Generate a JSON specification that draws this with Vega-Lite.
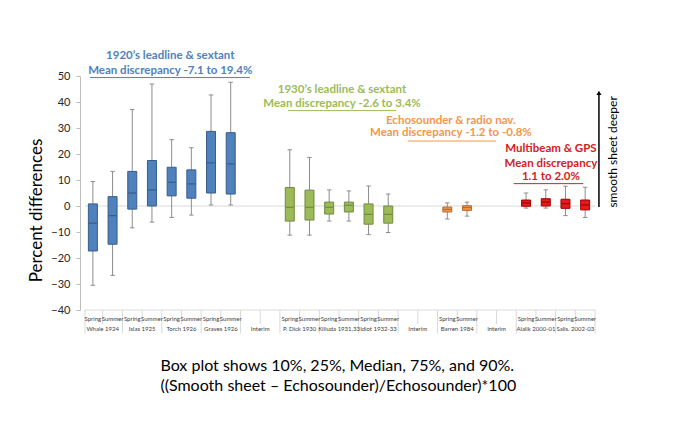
{
  "$schema": "https://vega.github.io/schema/vega-lite/v6.json",
  "width": 520,
  "height": 234,
  "autosize": "none",
  "padding": {"left": 80, "top": 76, "right": 75, "bottom": 114},
  "background": "white",
  "config": {"view": {"stroke": null}, "font": "Lato"},
  "datasets": {
    "boxes": [
      {"slot": 0, "season": "Spring", "era": "1920s", "p10": -30.5, "q1": -17.3, "med": -6.6, "q3": 0.8, "p90": 9.4},
      {"slot": 1, "season": "Summer", "era": "1920s", "p10": -26.7, "q1": -14.7, "med": -3.7, "q3": 3.6, "p90": 13.3},
      {"slot": 2, "season": "Spring", "era": "1920s", "p10": -8.4, "q1": -1.2, "med": 5.0, "q3": 13.3, "p90": 37.1},
      {"slot": 3, "season": "Summer", "era": "1920s", "p10": -6.2, "q1": 0.0, "med": 6.2, "q3": 17.5, "p90": 46.9},
      {"slot": 4, "season": "Spring", "era": "1920s", "p10": -4.4, "q1": 3.9, "med": 9.1, "q3": 14.9, "p90": 25.5},
      {"slot": 5, "season": "Summer", "era": "1920s", "p10": -3.5, "q1": 3.0, "med": 8.5, "q3": 13.9, "p90": 22.4},
      {"slot": 6, "season": "Spring", "era": "1920s", "p10": 0.4, "q1": 5.0, "med": 16.6, "q3": 28.7, "p90": 42.7},
      {"slot": 7, "season": "Summer", "era": "1920s", "p10": 0.4, "q1": 4.6, "med": 16.2, "q3": 28.2, "p90": 47.6},
      {"slot": 10, "season": "Spring", "era": "1930s", "p10": -11.2, "q1": -5.8, "med": -0.5, "q3": 7.1, "p90": 21.6},
      {"slot": 11, "season": "Summer", "era": "1930s", "p10": -11.2, "q1": -5.4, "med": -0.5, "q3": 6.1, "p90": 18.7},
      {"slot": 12, "season": "Spring", "era": "1930s", "p10": -5.8, "q1": -3.1, "med": -0.5, "q3": 1.5, "p90": 6.2},
      {"slot": 13, "season": "Summer", "era": "1930s", "p10": -5.8, "q1": -2.3, "med": 0.3, "q3": 1.5, "p90": 5.8},
      {"slot": 14, "season": "Spring", "era": "1930s", "p10": -11.0, "q1": -7.0, "med": -3.2, "q3": 0.8, "p90": 7.7},
      {"slot": 15, "season": "Summer", "era": "1930s", "p10": -10.2, "q1": -6.6, "med": -3.2, "q3": 0.0, "p90": 4.6},
      {"slot": 18, "season": "Spring", "era": "echo", "p10": -5.0, "q1": -2.3, "med": -1.3, "q3": -0.4, "p90": 1.2},
      {"slot": 19, "season": "Summer", "era": "echo", "p10": -3.9, "q1": -1.7, "med": -0.6, "q3": 0.1, "p90": 1.5},
      {"slot": 22, "season": "Spring", "era": "mb", "p10": -0.8, "q1": -0.1, "med": 1.2, "q3": 2.3, "p90": 5.0},
      {"slot": 23, "season": "Summer", "era": "mb", "p10": -0.8, "q1": 0.0, "med": 1.5, "q3": 2.8, "p90": 6.2},
      {"slot": 24, "season": "Spring", "era": "mb", "p10": -3.7, "q1": -0.9, "med": 0.9, "q3": 2.6, "p90": 7.6},
      {"slot": 25, "season": "Summer", "era": "mb", "p10": -4.4, "q1": -1.5, "med": 0.4, "q3": 2.3, "p90": 7.2}
    ],
    "groups": [
      {"center": 0.5, "label": "Whale 1924"},
      {"center": 2.5, "label": "Islas 1925"},
      {"center": 4.5, "label": "Torch 1926"},
      {"center": 6.5, "label": "Graves 1926"},
      {"center": 8.5, "label": "Interim"},
      {"center": 10.5, "label": "P. Dick 1930"},
      {"center": 12.5, "label": "Kiliuda 1931,33"},
      {"center": 14.5, "label": "Idiot 1932-33"},
      {"center": 16.5, "label": "Interim"},
      {"center": 18.5, "label": "Barren 1984"},
      {"center": 20.5, "label": "Interim"},
      {"center": 22.5, "label": "Alalik 2000-01"},
      {"center": 24.5, "label": "Salis. 2002-03"}
    ],
    "dividers": [
      {"b": -0.4, "kind": "full"}, {"b": 0.5, "kind": "half"}, {"b": 1.5, "kind": "full"}, {"b": 2.5, "kind": "half"},
      {"b": 3.5, "kind": "full"}, {"b": 4.5, "kind": "half"}, {"b": 5.5, "kind": "full"}, {"b": 6.5, "kind": "half"},
      {"b": 7.5, "kind": "full"}, {"b": 8.5, "kind": "half"}, {"b": 9.5, "kind": "full"}, {"b": 10.5, "kind": "half"},
      {"b": 11.5, "kind": "full"}, {"b": 12.5, "kind": "half"}, {"b": 13.5, "kind": "full"}, {"b": 14.5, "kind": "half"},
      {"b": 15.5, "kind": "full"}, {"b": 16.5, "kind": "half"}, {"b": 17.5, "kind": "full"}, {"b": 18.5, "kind": "half"},
      {"b": 19.5, "kind": "full"}, {"b": 20.5, "kind": "half"}, {"b": 21.5, "kind": "full"}, {"b": 22.5, "kind": "half"},
      {"b": 23.5, "kind": "full"}, {"b": 24.5, "kind": "half"}, {"b": 25.5, "kind": "full"}
    ],
    "notes": [
      {"x": 3.93, "y": 57.7, "era": "1920s", "text": "1920’s leadline & sextant"},
      {"x": 3.93, "y": 51.9, "era": "1920s", "text": "Mean discrepancy -7.1 to 19.4%"},
      {"x": 12.65, "y": 44.6, "era": "1930s", "text": "1930’s leadline & sextant"},
      {"x": 12.65, "y": 39.2, "era": "1930s", "text": "Mean discrepancy -2.6 to 3.4%"},
      {"x": 18.18, "y": 32.7, "era": "echo", "text": "Echosounder & radio nav."},
      {"x": 18.18, "y": 28.0, "era": "echo", "text": "Mean discrepancy -1.2 to -0.8%"},
      {"x": 23.26, "y": 21.8, "era": "mb", "text": "Multibeam & GPS"},
      {"x": 23.26, "y": 16.2, "era": "mb", "text": "Mean discrepancy"},
      {"x": 23.26, "y": 11.3, "era": "mb", "text": "1.1 to 2.0%"}
    ],
    "underlines": [
      {"x1": -0.15, "x2": 7.97, "y": 49.4, "era": "1920s"},
      {"x1": 9.91, "x2": 15.39, "y": 36.7, "era": "1930s"},
      {"x1": 15.99, "x2": 20.47, "y": 25.0, "era": "echo"},
      {"x1": 21.37, "x2": 24.9, "y": 8.6, "era": "mb"}
    ],
    "caption": [
      {"x": 3.43, "y": -61.5, "text": "Box plot shows 10%, 25%, Median, 75%, and 90%."},
      {"x": 3.43, "y": -69.4, "text": "((Smooth sheet – Echosounder)/Echosounder)*100"}
    ],
    "arrow": [
      {"x": 25.7, "y0": -0.4, "y1": 43.5, "label": "smooth sheet deeper", "ty": 20.8, "tx": 26.4}
    ],
    "frame": [{"a": -0.4, "b": 25.5, "z": 0}]
  },
  "layer": [
    {
      "data": {"name": "frame"},
      "mark": {"type": "rule", "color": "#d9d9d9", "strokeWidth": 1, "clip": false},
      "encoding": {
        "x": {"field": "a", "type": "quantitative", "scale": {"domain": [-0.4, 25.5], "nice": false, "zero": false}, "axis": null},
        "x2": {"field": "b"},
        "y": {"field": "z", "type": "quantitative", "scale": {"domain": [-40, 50], "nice": false, "zero": false},
          "axis": {"values": [-40, -30, -20, -10, 0, 10, 20, 30, 40, 50], "tickCount": 10, "labelOverlap": false, "grid": false, "domainColor": "#bfbfbf", "tickColor": "#bfbfbf", "tickSize": 4, "labelFontSize": 11, "labelColor": "#262626", "labelFont": "Lato", "labelPadding": 6, "title": "Percent differences", "titleFontSize": 17, "titleFont": "Lato", "titleFontWeight": "normal", "titleColor": "#000000", "titleY": 134, "titlePadding": 5}}
      }
    },
    {
      "data": {"name": "frame"},
      "mark": {"type": "rule", "color": "#d9d9d9", "strokeWidth": 1, "clip": false},
      "encoding": {
        "x": {"field": "a", "type": "quantitative"},
        "x2": {"field": "b"},
        "y": {"datum": -40}
      }
    },
    {
      "data": {"name": "boxes"},
      "mark": {"type": "rule", "color": "#8c8c8c", "strokeWidth": 1},
      "encoding": {
        "x": {"field": "slot", "type": "quantitative"},
        "y": {"field": "p10", "type": "quantitative"},
        "y2": {"field": "p90"}
      }
    },
    {
      "data": {"name": "boxes"},
      "mark": {"type": "point", "shape": "stroke", "filled": false, "stroke": "#8c8c8c", "strokeWidth": 1, "size": 20, "opacity": 1},
      "encoding": {
        "x": {"field": "slot", "type": "quantitative"},
        "y": {"field": "p10", "type": "quantitative"}
      }
    },
    {
      "data": {"name": "boxes"},
      "mark": {"type": "point", "shape": "stroke", "filled": false, "stroke": "#8c8c8c", "strokeWidth": 1, "size": 20, "opacity": 1},
      "encoding": {
        "x": {"field": "slot", "type": "quantitative"},
        "y": {"field": "p90", "type": "quantitative"}
      }
    },
    {
      "data": {"name": "boxes"},
      "mark": {"type": "bar", "width": 9, "strokeWidth": 1},
      "encoding": {
        "x": {"field": "slot", "type": "quantitative"},
        "y": {"field": "q1", "type": "quantitative"},
        "y2": {"field": "q3"},
        "fill": {"field": "era", "type": "nominal", "scale": {"domain": ["1920s", "1930s", "echo", "mb"], "range": ["#4f81bd", "#9bbb59", "#f79646", "#e41a1c"]}, "legend": null},
        "stroke": {"field": "era", "type": "nominal", "scale": {"domain": ["1920s", "1930s", "echo", "mb"], "range": ["#385d8a", "#71893f", "#b66d31", "#a00000"]}, "legend": null}
      }
    },
    {
      "data": {"name": "boxes"},
      "mark": {"type": "point", "shape": "stroke", "filled": false, "strokeWidth": 1.2, "size": 64, "opacity": 1},
      "encoding": {
        "x": {"field": "slot", "type": "quantitative"},
        "y": {"field": "med", "type": "quantitative"},
        "stroke": {"field": "era", "type": "nominal", "legend": null}
      }
    },
    {
      "data": {"name": "dividers"},
      "transform": [{"filter": "datum.kind === 'full'"}],
      "mark": {"type": "rule", "color": "#d9d9d9", "strokeWidth": 1, "clip": false},
      "encoding": {
        "x": {"field": "b", "type": "quantitative"},
        "y": {"datum": -40},
        "y2": {"datum": -49}
      }
    },
    {
      "data": {"name": "dividers"},
      "transform": [{"filter": "datum.kind === 'half'"}],
      "mark": {"type": "rule", "color": "#d9d9d9", "strokeWidth": 1, "clip": false},
      "encoding": {
        "x": {"field": "b", "type": "quantitative"},
        "y": {"datum": -40},
        "y2": {"datum": -45.4}
      }
    },
    {
      "data": {"name": "boxes"},
      "mark": {"type": "text", "fontSize": 6, "font": "Lato", "color": "#404040", "baseline": "middle", "align": "center", "clip": false},
      "encoding": {
        "x": {"field": "slot", "type": "quantitative"},
        "y": {"datum": -43.5},
        "text": {"field": "season"}
      }
    },
    {
      "data": {"name": "groups"},
      "mark": {"type": "text", "fontSize": 6, "font": "Lato", "color": "#404040", "baseline": "middle", "align": "center", "clip": false},
      "encoding": {
        "x": {"field": "center", "type": "quantitative"},
        "y": {"datum": -47.3},
        "text": {"field": "label"}
      }
    },
    {
      "data": {"name": "underlines"},
      "mark": {"type": "rule", "strokeWidth": 1, "clip": false},
      "encoding": {
        "x": {"field": "x1", "type": "quantitative"},
        "x2": {"field": "x2"},
        "y": {"field": "y", "type": "quantitative"},
        "color": {"field": "era", "type": "nominal", "scale": {"domain": ["1920s", "1930s", "echo", "mb"], "range": ["#4f81bd", "#9bbb59", "#f79646", "#d42020"]}, "legend": null}
      }
    },
    {
      "data": {"name": "notes"},
      "mark": {"type": "text", "fontSize": 11.5, "font": "Lato", "fontWeight": "bold", "baseline": "middle", "align": "center", "clip": false},
      "encoding": {
        "x": {"field": "x", "type": "quantitative"},
        "y": {"field": "y", "type": "quantitative"},
        "text": {"field": "text"},
        "color": {"field": "era", "type": "nominal", "legend": null}
      }
    },
    {
      "data": {"name": "caption"},
      "mark": {"type": "text", "fontSize": 16, "font": "Lato", "color": "#000000", "baseline": "middle", "align": "left", "clip": false},
      "encoding": {
        "x": {"field": "x", "type": "quantitative"},
        "y": {"field": "y", "type": "quantitative"},
        "text": {"field": "text"}
      }
    },
    {
      "data": {"name": "arrow"},
      "mark": {"type": "rule", "color": "#000000", "strokeWidth": 1.5, "clip": false},
      "encoding": {
        "x": {"field": "x", "type": "quantitative"},
        "y": {"field": "y0", "type": "quantitative"},
        "y2": {"field": "y1"}
      }
    },
    {
      "data": {"name": "arrow"},
      "mark": {"type": "point", "shape": "triangle-up", "filled": true, "color": "#000000", "size": 25, "opacity": 1, "clip": false},
      "encoding": {
        "x": {"field": "x", "type": "quantitative"},
        "y": {"field": "y1", "type": "quantitative"}
      }
    },
    {
      "data": {"name": "arrow"},
      "mark": {"type": "text", "angle": 270, "fontSize": 12, "font": "Lato", "color": "#000000", "baseline": "middle", "align": "center", "clip": false},
      "encoding": {
        "x": {"field": "tx", "type": "quantitative"},
        "y": {"field": "ty", "type": "quantitative"},
        "text": {"field": "label"}
      }
    }
  ]
}
